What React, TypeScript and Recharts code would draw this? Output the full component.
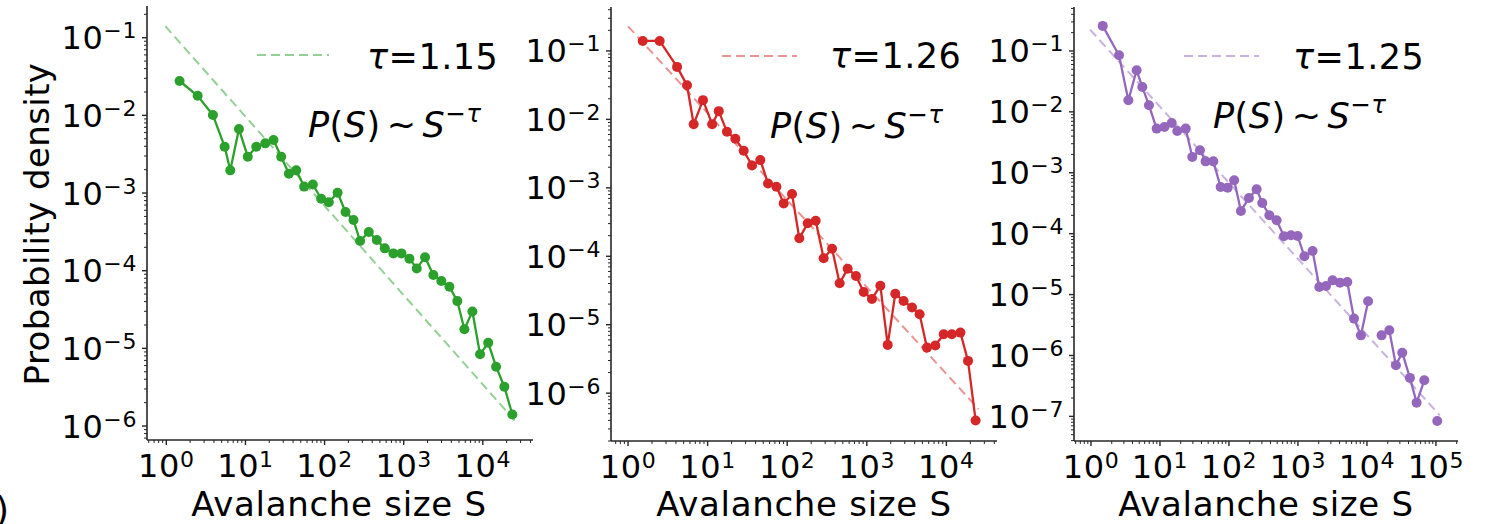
import React from 'react';
import { LineChart, Line, XAxis, YAxis } from 'recharts';

const FONT = '"DejaVu Sans", "Liberation Sans", sans-serif';
const AXIS = '#262626';

// ---------- Panel 1 (green, tau = 1.15) ----------
const greenS = [1.47, 2.49, 3.88, 5.46, 6.43, 8.28, 10.7, 13.7, 17.8, 22.6, 28.3, 35.4, 43.8, 55.2, 71.1, 90.6, 113, 146, 184, 232, 281, 362, 457, 577, 741, 935, 1180, 1460, 1860, 2370, 2990, 3780, 4760, 5850, 7380, 9230, 11700, 14700, 18700, 23600];
const greenP = [0.0277, 0.0179, 0.0101, 0.00395, 0.00196, 0.00667, 0.00294, 0.00395, 0.00436, 0.00481, 0.00294, 0.00177, 0.00196, 0.00121, 0.00129, 0.000845, 0.000759, 0.00101, 0.000569, 0.000449, 0.000241, 0.000315, 0.000248, 0.000194, 0.000167, 0.000167, 0.000143, 0.000107, 0.000149, 8.79e-5, 7.36e-5, 6.22e-5, 4.06e-5, 1.76e-5, 2.99e-5, 8.38e-6, 1.18e-5, 5.81e-6, 3.21e-6, 1.41e-6];
const greenFitS = [0.97, 25500];
const greenFitP = [0.141, 1.17e-6];

// ---------- Panel 2 (red, tau = 1.26) ----------
const redS = [1.53, 2.5, 4.13, 5.51, 6.68, 8.75, 11.4, 13.8, 17.5, 22.3, 28.4, 36.1, 45.9, 57.4, 73.1, 90.4, 115, 142, 181, 228, 287, 366, 456, 575, 731, 914, 1160, 1480, 1830, 2280, 2900, 3700, 4610, 5700, 7260, 9250, 11700, 15000, 18700, 23300];
const redP = [0.14, 0.14, 0.0585, 0.0316, 0.00851, 0.0191, 0.00851, 0.0132, 0.00658, 0.0052, 0.00348, 0.00212, 0.00254, 0.00116, 0.00104, 0.000592, 0.000811, 0.000183, 0.000303, 0.00033, 9.33e-5, 1.29e-4, 4.03e-5, 6.59e-5, 5.15e-5, 3.01e-5, 2.38e-5, 3.72e-5, 5.07e-6, 2.84e-5, 2.22e-5, 1.78e-5, 1.42e-5, 4.63e-6, 4.97e-6, 7.26e-6, 7.26e-6, 7.67e-6, 2.96e-6, 3.99e-7];
const redFitS = [1, 25400];
const redFitP = [0.229, 5.85e-7];

// ---------- Panel 3 (purple, tau = 1.25) ----------
const purpleS = [1.48, 2.55, 3.48, 4.59, 5.55, 6.93, 8.95, 11.6, 14.8, 17.8, 23.6, 29.4, 38.0, 45.9, 59.3, 75.7, 95.7, 119, 149, 195, 252, 304, 385, 491, 627, 792, 989, 1240, 1630, 2040, 2550, 3180, 4060, 5190, 6490, 8180, 10400, 13100, 16300, 21100, 26300, 32500, 42000, 52500, 67800, 84100, 104500];
const purpleP = [0.258, 0.0849, 0.0155, 0.0482, 0.0256, 0.0128, 0.00531, 0.00565, 0.00658, 0.00485, 0.00531, 0.00182, 0.00234, 0.00154, 0.00154, 0.000585, 0.00057, 0.000752, 0.000236, 0.000385, 0.000536, 0.000319, 0.0002, 0.000166, 9.06e-5, 9.4e-5, 9.16e-5, 4.25e-5, 5.2e-5, 1.33e-5, 1.38e-5, 1.71e-5, 1.57e-5, 1.61e-5, 4.03e-6, 2.14e-6, 7.74e-6, null, 2.14e-6, 2.59e-6, 6.89e-7, 1.11e-6, 4.28e-7, 1.68e-7, 3.91e-7, null, 8.39e-8];
const purpleFitS = [0.97, 114000];
const purpleFitP = [0.224, 1.04e-7];

const tauValues = ['1.15', '1.26', '1.25'];
const COLORS = ['#2ca02c', '#d62728', '#9467bd'];

const zip = (s: number[], p: (number | null)[]) => s.map((v, i) => ({ s: v, p: p[i] }));

const allTicks = (domain: [number, number]) => {
  const out: number[] = [];
  const lo = Math.floor(Math.log10(domain[0]));
  const hi = Math.ceil(Math.log10(domain[1]));
  for (let d = lo; d <= hi; d++) {
    for (let k = 1; k <= 9; k++) {
      const v = k * Math.pow(10, d);
      if (v >= domain[0] && v <= domain[1]) out.push(v);
    }
  }
  return out;
};

const isMajor = (v: number) => {
  const l = Math.log10(v);
  return Math.abs(l - Math.round(l)) < 1e-6;
};

const expText = (e: number) => (e < 0 ? '\u2212' + String(-e) : String(e));

const XTick = (props: any) => {
  const { x, y, payload } = props;
  const v = payload.value;
  const major = isMajor(v);
  const e = Math.round(Math.log10(v));
  return (
    <g>
      <line x1={x} x2={x} y1={y} y2={y + (major ? 5 : 3)} stroke={AXIS} strokeWidth={major ? 1.4 : 1} />
      {major && (
        <text x={x} y={y + 37} textAnchor="middle" fontFamily={FONT} fontSize={32} letterSpacing={0.6} fill="#000">
          <tspan>10</tspan>
          <tspan dy={-10} fontSize={22}>{expText(e)}</tspan>
        </text>
      )}
    </g>
  );
};

const YTick = (props: any) => {
  const { x, y, payload } = props;
  const v = payload.value;
  const major = isMajor(v);
  const e = Math.round(Math.log10(v));
  return (
    <g>
      <line x1={x - (major ? 5 : 3)} x2={x} y1={y} y2={y} stroke={AXIS} strokeWidth={major ? 1.4 : 1} />
      {major && (
        <text x={x - 10} y={y + 11.5} textAnchor="end" fontFamily={FONT} fontSize={32} letterSpacing={0.6} fill="#000">
          <tspan>10</tspan>
          <tspan dy={-11} fontSize={22}>{expText(e)}</tspan>
        </text>
      )}
    </g>
  );
};

type PanelProps = {
  left: number;
  width: number;
  yAxisWidth: number;
  top: number;
  xAxisHeight: number;
  marginRight: number;
  xDomain: [number, number];
  yDomain: [number, number];
  obs: { s: number; p: number | null }[];
  fit: { s: number; p: number | null }[];
  color: string;
};

const Panel = (pp: PanelProps) => (
  <div style={{ position: 'absolute', left: pp.left, top: 0 }}>
    <LineChart
      width={pp.width}
      height={524}
      margin={{ top: pp.top, right: pp.marginRight, bottom: 0, left: 0 }}
    >
      <XAxis
        dataKey="s"
        type="number"
        scale="log"
        domain={pp.xDomain}
        allowDataOverflow
        ticks={allTicks(pp.xDomain)}
        interval={0}
        tick={<XTick />}
        tickLine={false}
        tickSize={0}
        tickMargin={0}
        height={pp.xAxisHeight}
        axisLine={{ stroke: AXIS, strokeWidth: 1.6 }}
      />
      <YAxis
        dataKey="p"
        type="number"
        scale="log"
        domain={pp.yDomain}
        allowDataOverflow
        ticks={allTicks(pp.yDomain)}
        interval={0}
        tick={<YTick />}
        tickLine={false}
        tickSize={0}
        tickMargin={0}
        width={pp.yAxisWidth}
        axisLine={{ stroke: AXIS, strokeWidth: 1.6 }}
      />
      <Line
        data={pp.fit}
        dataKey="p"
        stroke={pp.color}
        strokeOpacity={0.5}
        strokeWidth={2}
        strokeDasharray="9 5"
        dot={false}
        activeDot={false}
        isAnimationActive={false}
      />
      <Line
        data={pp.obs}
        dataKey="p"
        stroke={pp.color}
        strokeWidth={2.3}
        dot={{ r: 5, fill: pp.color, stroke: pp.color, strokeWidth: 0 }}
        activeDot={false}
        isAnimationActive={false}
      />
    </LineChart>
  </div>
);

const MathLabel = ({ x, y, size }: { x: number; y: number; size: number }) => (
  <text x={x} y={y} fontFamily={FONT} fontSize={size} letterSpacing={0.5} fill="#000">
    <tspan fontStyle="italic">P</tspan>
    <tspan>(</tspan>
    <tspan fontStyle="italic">S</tspan>
    <tspan>)</tspan>
    <tspan dx={6}>~</tspan>
    <tspan dx={6} fontStyle="italic">S</tspan>
    <tspan dy={-15} fontSize={size * 0.7}>{'\u2212'}</tspan>
    <tspan fontSize={size * 0.7} fontStyle="italic">τ</tspan>
  </text>
);

const legends = [
  { lx1: 257, lx2: 329, ly: 55, tx: 367, ty: 69, mx: 308, my: 137 },
  { lx1: 722, lx2: 797, ly: 56, tx: 830, ty: 68, mx: 770, my: 138 },
  { lx1: 1184, lx2: 1259, ly: 56, tx: 1293, ty: 69, mx: 1213, my: 128 },
];

const xLabelCenters = [339, 804, 1266];

export default function App() {
  return (
    <div style={{ position: 'fixed', left: 0, top: 0, width: 1486, height: 524, overflow: 'hidden', background: '#fff' }}>
      <Panel
        left={0}
        width={545}
        yAxisWidth={147}
        top={6}
        xAxisHeight={84}
        marginRight={12}
        xDomain={[0.57, 43050]}
        yDomain={[6.61e-7, 0.256]}
        obs={zip(greenS, greenP)}
        fit={zip(greenFitS, greenFitP)}
        color={COLORS[0]}
      />
      <Panel
        left={480}
        width={530}
        yAxisWidth={131}
        top={7}
        xAxisHeight={83}
        marginRight={13}
        xDomain={[0.611, 43250]}
        yDomain={[2.0e-7, 0.4385]}
        obs={zip(redS, redP)}
        fit={zip(redFitS, redFitP)}
        color={COLORS[1]}
      />
      <Panel
        left={950}
        width={536}
        yAxisWidth={124}
        top={7}
        xAxisHeight={83}
        marginRight={28}
        xDomain={[0.5675, 208900]}
        yDomain={[3.94e-8, 0.527]}
        obs={zip(purpleS, purpleP)}
        fit={zip(purpleFitS, purpleFitP)}
        color={COLORS[2]}
      />
      <svg width={1486} height={524} style={{ position: 'absolute', left: 0, top: 0, pointerEvents: 'none' }}>
        <text
          x={37}
          y={224}
          transform="rotate(-90 37 224)"
          textAnchor="middle"
          dominantBaseline="central"
          fontFamily={FONT}
          fontSize={34}
          letterSpacing={0.4}
          fill="#000"
        >
          Probability density
        </text>
        {xLabelCenters.map((cx, i) => (
          <text key={'xl' + i} x={cx} y={516} textAnchor="middle" fontFamily={FONT} fontSize={34} letterSpacing={0.7} fill="#000">
            Avalanche size S
          </text>
        ))}
        {legends.map((l, i) => (
          <g key={'lg' + i}>
            <line x1={l.lx1} x2={l.lx2} y1={l.ly} y2={l.ly} stroke={COLORS[i]} strokeOpacity={0.5} strokeWidth={2} strokeDasharray="9 5" />
            <text x={l.tx} y={l.ty} fontFamily={FONT} fontSize={35} letterSpacing={0.5} fill="#000">
              <tspan fontStyle="italic">τ</tspan>
              <tspan>={tauValues[i]}</tspan>
            </text>
            <MathLabel x={l.mx} y={l.my} size={35} />
          </g>
        ))}
        <text x={-5} y={522} fontFamily={FONT} fontSize={36} fill="#000">)</text>
      </svg>
    </div>
  );
}
